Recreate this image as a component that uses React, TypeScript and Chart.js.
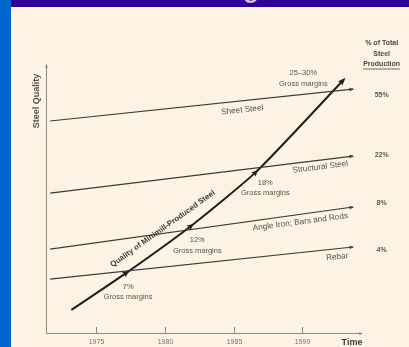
import React, { useEffect, useRef } from "react";
import { Chart, registerables } from "chart.js";

Chart.register(...registerables);

// ---------- data ----------
const X_MIN = 1971.35;
const X_MAX = 1994.35;
const xTickYears = [1975, 1980, 1985, 1990];

const segmentNames = ["Sheet Steel", "Structural Steel", "Angle Iron; Bars and Rods", "Rebar"];
const segmentYears = [1971.65, 1993.7];
const segmentStartQuality = [79.1, 52.2, 31.3, 20.1];
const segmentEndQuality = [91.0, 66.0, 47.0, 32.1];
const segmentShares = ["55%", "22%", "8%", "4%"];

const minimillYears = [1973.2, 1977.3, 1982.0, 1986.7, 1993.0];
const minimillQuality = [8.6, 22.8, 40.3, 60.4, 94.4];
const grossMargins = ["7%", "12%", "18%", "25–30%"];

// annotation anchors (data coordinates)
const segmentLabelAt = [
  { x: 1985.63, y: 83.2, rot: -6 },
  { x: 1991.31, y: 61.9, rot: -7 },
  { x: 1989.86, y: 41.4, rot: -7.5 },
  { x: 1992.55, y: 28.4, rot: -6 },
];
const shareLabelAt = [88.8, 66.4, 48.5, 31.0];
const shareYear = 1995.78;
const marginLabelAt = [
  { x: 1977.33, y: 17.2 },
  { x: 1982.36, y: 34.7 },
  { x: 1987.31, y: 56.0 },
  { x: 1990.08, y: 97.0 },
];
const curveLabelAt = { x: 1979.85, y: 38.9, rot: -35.5 };

const FONT = '"Liberation Sans", Arial, Helvetica, sans-serif';

function drawArrow(ctx: CanvasRenderingContext2D, x: number, y: number, ang: number, len: number, hw: number, color: string) {
  ctx.save();
  ctx.translate(x, y);
  ctx.rotate(ang);
  ctx.fillStyle = color;
  ctx.beginPath();
  ctx.moveTo(0, 0);
  ctx.lineTo(-len, -hw);
  ctx.lineTo(-len * 0.8, 0);
  ctx.lineTo(-len, hw);
  ctx.closePath();
  ctx.fill();
  ctx.restore();
}

function text(ctx: CanvasRenderingContext2D, s: string, x: number, y: number, font: string, color: string, rot = 0) {
  ctx.save();
  ctx.translate(x, y);
  if (rot) ctx.rotate((rot * Math.PI) / 180);
  ctx.font = font;
  ctx.fillStyle = color;
  ctx.textAlign = "center";
  ctx.textBaseline = "middle";
  ctx.fillText(s, 0, 0);
  ctx.restore();
}

const backgroundPlugin = {
  id: "paperBackground",
  beforeDraw(chart: any) {
    const { ctx, width, height } = chart;
    ctx.save();
    ctx.fillStyle = "#fdf3e4";
    ctx.fillRect(0, 0, width, height);
    ctx.fillStyle = "#330099";
    ctx.fillRect(0, 0, width, 7);
    ctx.beginPath();
    ctx.rect(0, 0, width, 7);
    ctx.clip();
    ctx.fillStyle = "#c9c3de";
    ctx.font = `bold 26px ${FONT}`;
    ctx.textAlign = "center";
    ctx.textBaseline = "alphabetic";
    ctx.fillText("g", 251, -2.5);
    ctx.restore();
    ctx.save();
    ctx.fillStyle = "#0066cc";
    ctx.fillRect(0, 0, 11, height);
    ctx.restore();
  },
};

const axesPlugin = {
  id: "sketchAxes",
  beforeDatasetsDraw(chart: any) {
    const { ctx, chartArea } = chart;
    const xs = chart.scales.x;
    const axisColor = "#8c8882";
    ctx.save();
    ctx.strokeStyle = axisColor;
    ctx.lineWidth = 1;
    ctx.beginPath();
    ctx.moveTo(chartArea.left + 0.5, chartArea.top);
    ctx.lineTo(chartArea.left + 0.5, chartArea.bottom + 0.5);
    ctx.lineTo(chartArea.right, chartArea.bottom + 0.5);
    ctx.stroke();
    drawArrow(ctx, chartArea.right + 1, chartArea.bottom + 0.5, 0, 4, 1.6, axisColor);
    drawArrow(ctx, chartArea.left + 0.5, chartArea.top - 1, -Math.PI / 2, 4, 1.6, axisColor);
    for (const yr of xTickYears) {
      const px = Math.round(xs.getPixelForValue(yr)) + 0.5;
      ctx.beginPath();
      ctx.moveTo(px, chartArea.bottom - 6);
      ctx.lineTo(px, chartArea.bottom);
      ctx.stroke();
      text(ctx, String(yr), px, chartArea.bottom + 9, `7px ${FONT}`, "#77736d");
    }
    ctx.restore();
    text(ctx, "Time", chartArea.right - 10, chartArea.bottom + 10, `bold 9px ${FONT}`, "#3a3835");
    text(ctx, "Steel Quality", chartArea.left - 9, chartArea.top + 36, `bold 9px ${FONT}`, "#55524d", -90);
  },
};

const annotationPlugin = {
  id: "sketchLabels",
  afterDatasetsDraw(chart: any) {
    const { ctx, chartArea } = chart;
    const xs = chart.scales.x;
    const ys = chart.scales.y;
    const lab = "#57534d";
    // arrowheads on segment lines
    for (let i = 0; i < segmentNames.length; i++) {
      const pts = chart.getDatasetMeta(i).data;
      const a = pts[pts.length - 2];
      const b = pts[pts.length - 1];
      drawArrow(ctx, b.x + 1, b.y, Math.atan2(b.y - a.y, b.x - a.x), 5, 1.8, "#3a3a3a");
    }
    // arrowheads on minimill curve
    const curve = chart.getDatasetMeta(segmentNames.length).data;
    for (let i = 1; i < curve.length; i++) {
      const p = curve[i];
      let ang: number;
      if (i < curve.length - 1 && p.cp1x !== undefined && p.cp2x !== undefined) {
        ang = Math.atan2(p.cp2y - p.cp1y, p.cp2x - p.cp1x);
      } else if (p.cp1x !== undefined && (p.cp1x !== p.x || p.cp1y !== p.y)) {
        ang = Math.atan2(p.y - p.cp1y, p.x - p.cp1x);
      } else {
        const q = curve[i - 1];
        ang = Math.atan2(p.y - q.y, p.x - q.x);
      }
      const last = i === curve.length - 1;
      drawArrow(ctx, p.x + Math.cos(ang) * (last ? 3 : 2), p.y + Math.sin(ang) * (last ? 3 : 2), ang, last ? 8 : 7, last ? 3 : 3, "#1e1e1e");
    }
    // segment labels
    segmentNames.forEach((n, i) => {
      const L = segmentLabelAt[i];
      text(ctx, n, xs.getPixelForValue(L.x), ys.getPixelForValue(L.y), `8.2px ${FONT}`, lab, L.rot);
    });
    // shares column
    const sx = xs.getPixelForValue(shareYear);
    segmentShares.forEach((s, i) => {
      text(ctx, s, sx, ys.getPixelForValue(shareLabelAt[i]), `bold 7px ${FONT}`, "#5a5650");
    });
    const hf = `bold 7px ${FONT}`;
    text(ctx, "% of Total", sx, chartArea.top - 22, hf, "#4a4742");
    text(ctx, "Steel", sx, chartArea.top - 11, hf, "#4a4742");
    text(ctx, "Production", sx, chartArea.top - 1, hf, "#4a4742");
    ctx.save();
    ctx.font = hf;
    const w = ctx.measureText("Production").width;
    ctx.strokeStyle = "#4a4742";
    ctx.lineWidth = 0.8;
    ctx.beginPath();
    ctx.moveTo(sx - w / 2, chartArea.top + 4);
    ctx.lineTo(sx + w / 2, chartArea.top + 4);
    ctx.stroke();
    ctx.restore();
    // gross margins
    grossMargins.forEach((g, i) => {
      const M = marginLabelAt[i];
      const px = xs.getPixelForValue(M.x);
      const py = ys.getPixelForValue(M.y);
      text(ctx, g, px, py, `7.5px ${FONT}`, lab);
      text(ctx, "Gross margins", px, py + 10.5, `7.5px ${FONT}`, lab);
    });
    // curve label
    text(
      ctx,
      "Quality of Minimill-Produced Steel",
      xs.getPixelForValue(curveLabelAt.x),
      ys.getPixelForValue(curveLabelAt.y),
      `bold 7.8px ${FONT}`,
      "#3b3935",
      curveLabelAt.rot
    );
  },
};

export default function App() {
  const ref = useRef<HTMLCanvasElement | null>(null);
  useEffect(() => {
    if (!ref.current) return;
    const segDatasets = segmentNames.map((n, i) => ({
      label: n,
      data: segmentYears.map((yr, k) => ({ x: yr, y: k === 0 ? segmentStartQuality[i] : segmentEndQuality[i] })),
      borderColor: "#3a3a3a",
      borderWidth: 1.1,
      pointRadius: 0,
      tension: 0,
    }));
    const chart = new Chart(ref.current, {
      type: "line",
      data: {
        datasets: [
          ...segDatasets,
          {
            label: "Quality of Minimill-Produced Steel",
            data: minimillYears.map((yr, k) => ({ x: yr, y: minimillQuality[k] })),
            borderColor: "#1e1e1e",
            borderWidth: 2,
            pointRadius: 0,
            tension: 0.2,
          },
        ],
      },
      options: {
        responsive: false,
        animation: false,
        devicePixelRatio: 1,
        layout: { padding: { left: 46, top: 65, right: 47, bottom: 14 } },
        plugins: { legend: { display: false }, tooltip: { enabled: false }, title: { display: false } },
        scales: {
          x: { type: "linear", min: X_MIN, max: X_MAX, display: false },
          y: { type: "linear", min: 0, max: 100, display: false },
        },
      },
      plugins: [backgroundPlugin, axesPlugin, annotationPlugin],
    } as any);
    return () => chart.destroy();
  }, []);
  return (
    <div style={{ position: "fixed", left: 0, top: 0, width: 409, height: 347 }}>
      <canvas ref={ref} width={409} height={347} style={{ display: "block", width: 409, height: 347 }} />
    </div>
  );
}
